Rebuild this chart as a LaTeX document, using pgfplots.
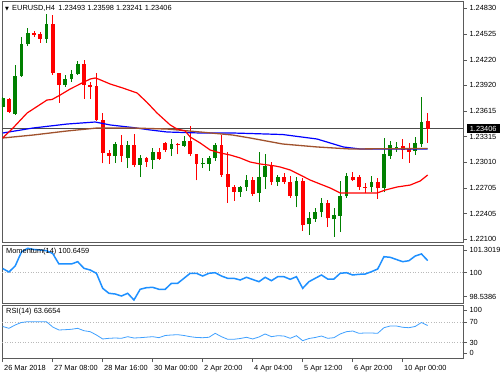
\documentclass[border=0pt]{standalone}
\usepackage{pgfplots}
\pgfplotsset{compat=1.18}
\usepackage{pgfplotstable}
\usepackage{fontspec}
\setmainfont{Liberation Sans}
\newfontfamily\dejavu{DejaVu Sans}
\definecolor{cgreen}{RGB}{0,128,0}
\definecolor{cred}{RGB}{255,0,0}
\definecolor{mablue}{RGB}{0,0,255}
\definecolor{mabrown}{RGB}{160,82,45}
\definecolor{dblue}{RGB}{30,144,255}
\definecolor{bordergray}{RGB}{90,90,90}

\pgfplotstableread{
i o h l c
0 1.23663 1.23785 1.23510 1.23770
2 1.23581 1.24160 1.23569 1.24030
3 1.24030 1.24491 1.24018 1.24408
4 1.24408 1.24597 1.24384 1.24538
7 1.24467 1.24763 1.24420 1.24644
10 1.23923 1.24042 1.23900 1.23994
11 1.23994 1.24101 1.23959 1.24053
12 1.24053 1.24207 1.24042 1.24172
18 1.23084 1.23253 1.23005 1.23226
20 1.23055 1.23262 1.22942 1.23214
22 1.22978 1.23096 1.22836 1.23061
24 1.23037 1.23179 1.22936 1.23137
27 1.23167 1.23285 1.23084 1.23226
29 1.23202 1.23321 1.23191 1.23267
32 1.22986 1.23055 1.22942 1.23005
33 1.22990 1.23090 1.22910 1.23061
34 1.23055 1.23238 1.23025 1.23214
38 1.22662 1.22730 1.22603 1.22718
39 1.22718 1.22860 1.22674 1.22800
41 1.22650 1.23135 1.22544 1.22839
42 1.22839 1.23108 1.22694 1.22966
44 1.22780 1.22860 1.22730 1.22836
47 1.22608 1.22836 1.22478 1.22792
49 1.22275 1.22426 1.22156 1.22348
50 1.22342 1.22470 1.22308 1.22426
51 1.22422 1.22584 1.22360 1.22529
53 1.22336 1.22466 1.22130 1.22387
54 1.22380 1.22789 1.22186 1.22611
55 1.22608 1.22887 1.22591 1.22848
59 1.22718 1.22848 1.22662 1.22777
61 1.22708 1.23299 1.22653 1.23111
62 1.23084 1.23265 1.23051 1.23214
63 1.23179 1.23253 1.23135 1.23194
66 1.23143 1.23312 1.23096 1.23234
67 1.23226 1.23778 1.23194 1.23490
}\greentab

\pgfplotstableread{
i o h l c
1 1.23758 1.23770 1.23592 1.23604
5 1.24538 1.24562 1.24491 1.24514
6 1.24526 1.24550 1.24420 1.24467
8 1.24644 1.24751 1.24042 1.24065
9 1.24065 1.24070 1.23711 1.23923
13 1.24172 1.24219 1.23758 1.23923
14 1.23923 1.23959 1.23758 1.23900
15 1.23912 1.24069 1.23498 1.23510
16 1.23510 1.23596 1.22996 1.23120
17 1.23120 1.23155 1.22990 1.23084
19 1.23214 1.23332 1.23013 1.23084
21 1.23214 1.23344 1.22954 1.22972
23 1.23061 1.23076 1.22954 1.23017
25 1.23131 1.23179 1.23037 1.23049
26 1.23232 1.23244 1.23131 1.23155
28 1.23226 1.23238 1.23102 1.23211
30 1.23265 1.23439 1.23084 1.23102
31 1.23108 1.23110 1.22795 1.22990
35 1.23214 1.23332 1.22839 1.22860
36 1.22871 1.23135 1.22529 1.22718
37 1.22718 1.22741 1.22556 1.22662
40 1.22800 1.22836 1.22611 1.22641
43 1.22966 1.23019 1.22741 1.22780
45 1.22836 1.22883 1.22753 1.22780
46 1.22780 1.22848 1.22588 1.22611
48 1.22792 1.22824 1.22201 1.22263
52 1.22532 1.22564 1.22245 1.22348
56 1.22839 1.22899 1.22786 1.22800
57 1.22839 1.22860 1.22682 1.22721
58 1.22721 1.22769 1.22643 1.22706
60 1.22774 1.22826 1.22578 1.22702
64 1.23208 1.23282 1.23051 1.23152
65 1.23169 1.23238 1.23007 1.23135
68 1.23493 1.23598 1.23241 1.23406
}\redtab

\pgfplotsset{
  panel/.style={
    scale only axis, width=461pt, anchor=north west,
    xmin=-0.11, xmax=73.65,
    axis line style={bordergray, line width=0.9pt},
    ytick pos=right, yticklabel pos=right,
    tick align=outside, major tick length=3.5pt,
    tick style={bordergray, line width=0.6pt},
    xtick=\empty,
    tick label style={font=\fontsize{7.4}{8}\selectfont, black},
    yticklabel style={xshift=-0.5pt},
    clip mode=individual,
  },
  wick/.style={draw=none, mark=none, forget plot,
    error bars/.cd, y dir=plus, y explicit, error mark=none,
    error bar style={draw=#1, line width=0.75pt}},
  body/.style={draw=none, mark=none, forget plot,
    error bars/.cd, y dir=plus, y explicit, error mark=none,
    error bar style={draw=#1, line width=3.8pt}},
}

\begin{document}
\begin{tikzpicture}
\path[fill=white, use as bounding box] (0pt,0pt) rectangle (500pt,-375pt);

% ---------------- main price panel
\begin{axis}[panel, at={(2pt,-1.5pt)}, height=241pt,
  ymin=1.22062, ymax=1.24910,
  ytick={1.22100,1.22405,1.22705,1.23010,1.23315,1.23615,1.23920,1.24220,1.24525,1.24830},
  yticklabels={1.22100,1.22405,1.22705,1.23010,1.23315,1.23615,1.23920,1.24220,1.24525,1.24830}]
\addplot[gray!60!black, line width=0.6pt, forget plot] coordinates {(-0.11,1.23406) (73.65,1.23406)};
% wicks
\addplot[wick=cgreen] table[x=i, y=l, y error plus expr=\thisrow{h}-\thisrow{l}] {\greentab};
\addplot[wick=cred] table[x=i, y=l, y error plus expr=\thisrow{h}-\thisrow{l}] {\redtab};
% bodies
\addplot[body=cgreen] table[x=i, y=o, y error plus expr=\thisrow{c}-\thisrow{o}] {\greentab};
\addplot[body=cred] table[x=i, y=c, y error plus expr=\thisrow{o}-\thisrow{c}] {\redtab};
% moving averages
\addplot[mablue, line width=1.2pt] coordinates {
(0,1.23356) (4.85,1.23415) (10.3,1.23462) (14.8,1.23486) (17.2,1.23451) (20.8,1.23421)
(23.6,1.23392) (26.3,1.23368) (31.6,1.23356) (36.8,1.23356) (39.6,1.23350) (44.8,1.23338)
(50.3,1.23285) (54.5,1.23191) (57.2,1.23167) (68,1.23167)};
\addplot[mabrown, line width=1.3pt] coordinates {
(0,1.23297) (4.85,1.23332) (10.3,1.23380) (15.1,1.23415) (20.8,1.23415) (26.3,1.23403)
(31.6,1.23368) (36.8,1.23332) (39.6,1.23297) (44.8,1.23226) (50.3,1.23191) (55.6,1.23167)
(68,1.23173)};
\addplot[cred, line width=1.2pt] coordinates {
(0,1.23297) (1.65,1.23415) (3.9,1.23592) (7.1,1.23746) (7.9,1.23752) (9.2,1.23805) (10.8,1.23876)
(12.7,1.23947) (14,1.23994) (14.8,1.24006) (15.3,1.23994) (17.2,1.23935) (19.2,1.23888)
(21.5,1.23829) (23.1,1.23717) (24.7,1.23592) (26.8,1.23451) (27.9,1.23403) (29.2,1.23380)
(30,1.23309) (31.6,1.23238) (33.2,1.23155) (34.8,1.23120) (36.4,1.23096) (38,1.23061)
(39.6,1.23013) (41.2,1.22990) (43.6,1.22966) (44.4,1.22954) (46,1.22919) (47.6,1.22860)
(49.2,1.22800) (50.8,1.22753) (52.4,1.22706) (54,1.22647) (58,1.22647) (59.9,1.22647)
(61.2,1.22682) (63.1,1.22718) (65.2,1.22741) (66.8,1.22789) (68,1.22860)};
% title
\node[anchor=west, inner sep=0pt, font=\fontsize{7.4}{8}\selectfont]
  at (axis description cs:0.0065,0.972)
  {{\dejavu\fontsize{5}{5}\selectfont ▼}\hspace{3.2pt}EURUSD,H4\hspace{3.5pt}1.23493 1.23598 1.23241 1.23406};
% current price box
\node[anchor=west, xshift=3.5pt, fill=black, text=white, inner sep=0pt,
  minimum width=33pt, minimum height=8.6pt, font=\fontsize{7.4}{8}\selectfont]
  at (axis cs:73.65,1.23406) {1.23406};
\end{axis}

% ---------------- momentum panel
\begin{axis}[panel, at={(2pt,-245pt)}, height=58pt,
  ymin=98.378, ymax=101.478,
  ytick={98.715,100,101.211}, yticklabels={98.5386,100,101.3019}]
\addplot[gray!55, dotted, line width=0.6pt, forget plot] coordinates {(-0.11,100) (73.65,100)};
\addplot[dblue, line width=1.5pt] coordinates {
(0,100.222) (1,100.035) (2,100.356) (3,101.104) (4,101.302) (5,101.238) (6,101.211) (7,101.174)
(8,101.024) (9,100.463) (10,100.463) (11,100.463) (12,100.586) (13,100.233) (14,100.142)
(15,99.966) (16,99.164) (17,98.897) (18,98.859) (19,98.752) (20,98.897) (21,98.539)
(22,99.111) (23,99.196) (24,99.217) (25,99.111) (26,99.111) (27,99.431) (28,99.431)
(29,99.698) (30,99.966) (31,99.966) (32,99.821) (33,99.966) (34,99.998) (35,99.821)
(36,99.698) (37,99.698) (38,99.608) (39,99.752) (40,99.634) (41,99.517) (42,99.752)
(43,99.570) (44,99.784) (45,99.784) (46,99.645) (47,99.784) (48,99.164) (49,99.517)
(50,99.698) (51,99.875) (52,99.661) (53,99.661) (54,99.966) (55,99.998) (56,99.875)
(57,99.912) (58,99.928) (59,100.051) (60,100.196) (61,100.853) (62,100.821) (63,100.703)
(64,100.586) (65,100.639) (66,100.890) (67,101.000) (68,100.6459)};
\node[anchor=west, inner sep=0pt, font=\fontsize{7.4}{8}\selectfont]
  at (axis description cs:0.0087,0.884) {Momentum(14) 100.6459};
\end{axis}

% ---------------- RSI panel
\begin{axis}[panel, at={(2pt,-305.5pt)}, height=53pt,
  ymin=-1, ymax=102.9,
  ytick={30,70}, yticklabels={30,70},
  extra y ticks={9.2,94.1}, extra y tick labels={0,100},
  xtick={0,8,16,24,32,40,48,56,64},
  xticklabels={26 Mar 2018,27 Mar 08:00,28 Mar 16:00,30 Mar 00:00,2 Apr 20:00,4 Apr 04:00,5 Apr 12:00,6 Apr 20:00,10 Apr 00:00},
  xtick pos=left,
  xticklabel style={anchor=north west, xshift=-2pt, yshift=0.5pt}]
\addplot[gray!55, dotted, line width=0.6pt, forget plot] coordinates {(-0.11,70) (73.65,70)};
\addplot[gray!55, dotted, line width=0.6pt, forget plot] coordinates {(-0.11,30) (73.65,30)};
\addplot[dblue!85!white, line width=0.8pt] coordinates {
(0,61.8) (1,58.2) (2,64.7) (3,69.6) (4,71.2) (5,71.2) (6,71.2) (7,71.2) (8,60.8) (9,54.9)
(10,55.5) (11,56.3) (12,58.2) (13,53.5) (14,51.6) (15,45.1) (16,37.3) (17,38.6) (18,39.2)
(19,38.6) (20,41.8) (21,39.2) (22,39.8) (23,40.8) (24,41.8) (25,39.8) (26,44.1) (27,45.1)
(28,45.7) (29,44.1) (30,41.8) (31,40.2) (32,39.8) (33,40.6) (34,48.4) (35,41.8) (36,36.7)
(37,36.7) (38,38.2) (39,40.6) (40,37.3) (41,41.2) (42,47.1) (43,41.8) (44,43.7) (45,43.1)
(46,38.6) (47,43.7) (48,33.9) (49,38.2) (50,40.2) (51,43.1) (52,38.6) (53,39.8) (54,47.1)
(55,51.6) (56,52.9) (57,48.4) (58,49.0) (59,49.0) (60,48.4) (61,59.4) (62,62.7) (63,62.7)
(64,60.2) (65,59.4) (66,61.8) (67,69.6) (68,63.67)};
\node[anchor=west, inner sep=0pt, font=\fontsize{7.4}{8}\selectfont]
  at (axis description cs:0.0087,0.883) {RSI(14) 63.6654};
\end{axis}
\end{tikzpicture}
\end{document}
